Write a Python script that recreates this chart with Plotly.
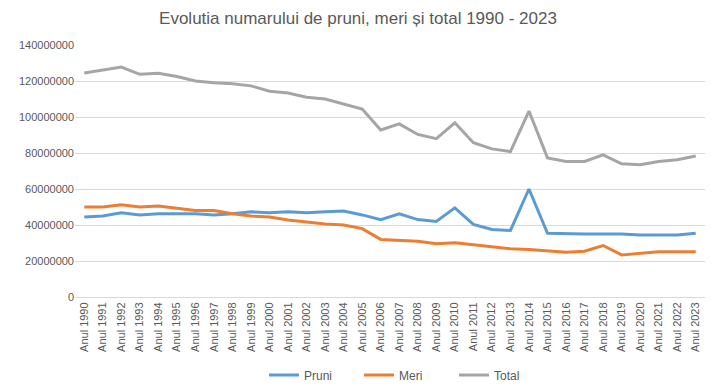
import plotly.graph_objects as go

years = [f"Anul {y}" for y in range(1990, 2024)]
pruni = [44.5, 45.0, 46.8, 45.6, 46.2, 46.2, 46.2, 45.6, 46.2, 47.3, 46.8, 47.3, 46.8, 47.3, 47.8, 45.6, 43.0, 46.2, 43.0, 42.0,
         49.5, 40.3, 37.5, 37.0, 60.0, 35.4, 35.0, 35.0, 35.0, 35.0, 34.4, 34.4, 34.4, 35.4]
meri = [50.0, 50.0, 51.2, 50.0, 50.6, 49.5, 48.0, 48.0, 46.2, 45.0, 44.4, 42.8, 41.6, 40.6, 40.0, 38.0, 32.0, 31.5, 31.0, 29.6,
        30.2, 29.0, 27.8, 26.8, 26.4, 25.4, 24.8, 25.4, 28.6, 23.4, 24.2, 25.2, 25.2, 25.2]
total = [124.4, 126.0, 127.7, 123.7, 124.3, 122.5, 120.0, 119.0, 118.5, 117.3, 114.3, 113.3, 111.0, 110.0, 107.0, 104.4, 92.8,
         96.2, 90.3, 88.0, 96.8, 85.7, 82.3, 80.8, 103.3, 77.3, 75.3, 75.3, 79.0, 74.0, 73.5, 75.3, 76.3, 78.3]

scale = 1_000_000
series = [("Pruni", pruni, "#5B9BD5"), ("Meri", meri, "#ED7D31"), ("Total", total, "#A5A5A5")]

fig = go.Figure()
for name, vals, color in series:
    fig.add_trace(go.Scatter(x=years, y=[v * scale for v in vals], name=name, mode="lines",
                             line=dict(color=color, width=3)))

fig.update_layout(
    width=716, height=388,
    paper_bgcolor="white", plot_bgcolor="white",
    margin=dict(l=75, r=11, t=45, b=91, autoexpand=False),
    title=dict(text="Evolutia numarului de pruni, meri și total 1990 - 2023", x=0.5, xanchor="center",
               y=1 - 18 / 388, yanchor="middle",
               font=dict(family="Liberation Sans", size=17, color="#595959")),
    font=dict(family="Liberation Sans", size=11, color="#595959"),
    legend=dict(orientation="h", x=0.3, xanchor="left", yref="container", y=13 / 388, yanchor="middle",
                font=dict(family="Liberation Sans Narrow, Liberation Sans", size=12, color="#595959"),
                itemwidth=30, entrywidth=50, entrywidthmode="pixels", tracegroupgap=0),
    showlegend=True,
    hovermode=False,
)
fig.update_xaxes(type="category", range=[-0.5, len(years) - 0.5], tickangle=-90, showgrid=False,
                 showline=True, linecolor="#D9D9D9", linewidth=1, ticks="",
                 tickfont=dict(size=11, color="#595959"))
fig.update_yaxes(range=[0, 140_000_000], dtick=20_000_000, tickformat="d", showgrid=True, gridcolor="#D9D9D9",
                 gridwidth=1, zeroline=False, showline=False, ticks="",
                 tickfont=dict(size=11, color="#595959"))

fig.write_html("out.html", config={"displayModeBar": False},
               post_script="document.body.style.margin='0';")
